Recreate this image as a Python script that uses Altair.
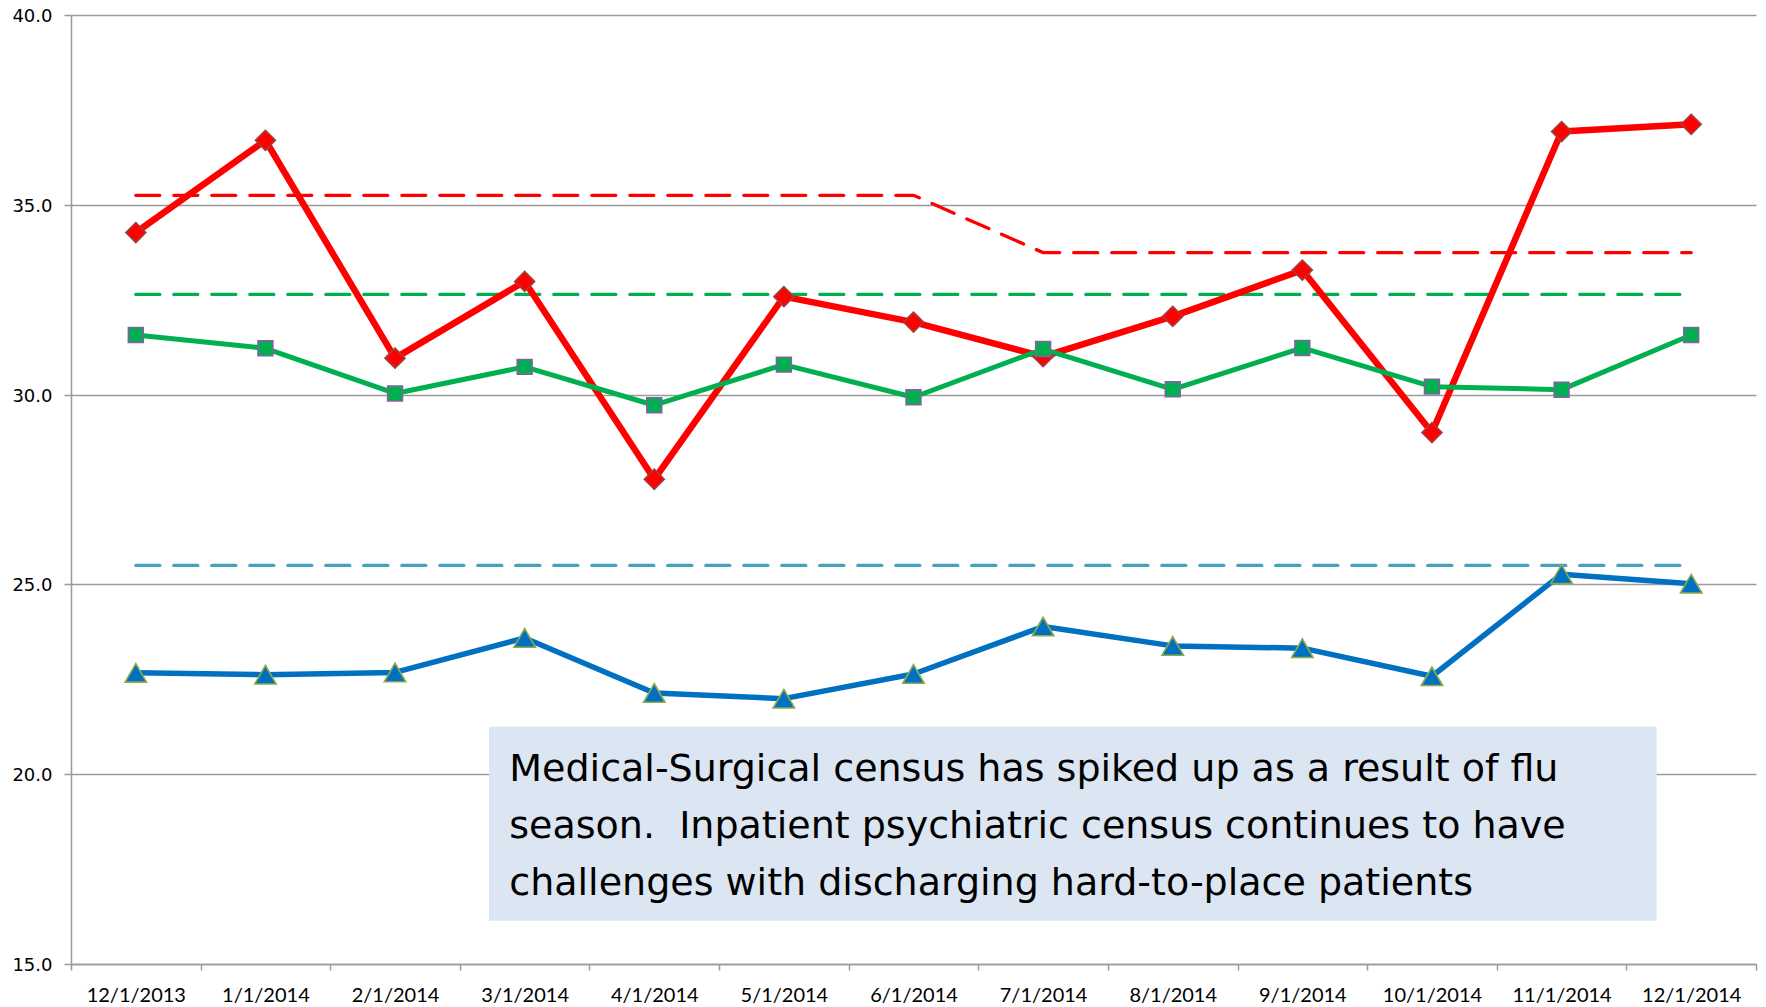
import altair as alt
import pandas as pd

# ---------------- data ----------------
months = ["12/1/2013", "1/1/2014", "2/1/2014", "3/1/2014", "4/1/2014", "5/1/2014",
          "6/1/2014", "7/1/2014", "8/1/2014", "9/1/2014", "10/1/2014", "11/1/2014",
          "12/1/2014"]

med_surg = [34.27, 36.70, 30.96, 32.98, 27.77, 32.58, 31.91, 31.00, 32.06, 33.28,
            29.00, 36.93, 37.12]
other = [31.57, 31.22, 30.03, 30.73, 29.72, 30.79, 29.93, 31.20, 30.14, 31.23,
         30.21, 30.13, 31.57]
psych = [22.67, 22.62, 22.68, 23.59, 22.14, 21.99, 22.64, 23.89, 23.38, 23.32,
         22.58, 25.27, 25.02]

med_surg_limit = [35.25, 35.25, 35.25, 35.25, 35.25, 35.25, 35.25, 33.74, 33.74,
                  33.74, 33.74, 33.74, 33.74]
other_limit = [32.64, 32.64, 32.64, 32.64, 32.64, 32.64, 32.64, 32.64, 32.64,
               32.64, 32.64, 32.64, 32.64]
psych_limit = [25.50, 25.50, 25.50, 25.50, 25.50, 25.50, 25.50, 25.50, 25.50,
               25.50, 25.50, 25.50, 25.50]

y_ticks = [15, 20, 25, 30, 35, 40]

note_lines = [
    "Medical-Surgical census has spiked up as a result of flu",
    "season.\u00a0 Inpatient psychiatric census continues to have",
    "challenges with discharging hard-to-place patients",
]

# ---------------- layout ----------------
W, H = 1685, 949
GRAY = "#9a9a9a"

df = pd.DataFrame({
    "month": months,
    "med_surg": med_surg,
    "other": other,
    "psych": psych,
    "med_surg_limit": med_surg_limit,
    "other_limit": other_limit,
    "psych_limit": psych_limit,
})

x_enc = alt.X(
    "month:N", sort=months, bandPosition=0.5,
    scale=alt.Scale(type="band", paddingInner=0, paddingOuter=0),
    axis=alt.Axis(title=None, labelAngle=0, tickBand="extent", grid=False,
                  domainColor=GRAY, domainWidth=1.5, tickColor=GRAY, tickWidth=1.5,
                  tickSize=6, labelFont="Lato", labelFontSize=20, labelColor="#000000",
                  labelPadding=15),
)


def y_enc(field):
    return alt.Y(
        f"{field}:Q",
        scale=alt.Scale(domain=[15, 40], nice=False, zero=False),
        axis=alt.Axis(title=None, values=y_ticks, format=".1f", grid=True,
                      gridColor=GRAY, gridWidth=1.5, domainColor=GRAY, domainWidth=1.5,
                      tickColor=GRAY, tickWidth=1.5, tickSize=7, labelFont="DejaVu Sans",
                      labelFontSize=18, labelColor="#000000", labelPadding=12,
                      labelOffset=1.5),
    )


base = alt.Chart(df)


def dashed(field, color):
    return base.mark_line(color=color, strokeWidth=3.3, strokeDash=[24, 14],
                          strokeCap="round").encode(x=x_enc, y=y_enc(field))


def series(field, color, width, shape, size, stroke):
    line = base.mark_line(color=color, strokeWidth=width, strokeJoin="round").encode(
        x=x_enc, y=y_enc(field))
    pts = base.mark_point(shape=shape, size=size, filled=True, fill=color, stroke=stroke,
                          strokeWidth=1.6, opacity=1).encode(x=x_enc, y=y_enc(field))
    return line + pts


note_df = pd.DataFrame({"k": [0]})
box = alt.Chart(note_df).mark_rect(color="#DCE6F2").encode(
    x=alt.value(418), x2=alt.value(1585.7), y=alt.value(711.7), y2=alt.value(905.7))
note = alt.Chart(note_df).mark_text(
    align="left", baseline="alphabetic", font="DejaVu Sans", fontSize=38, lineHeight=57,
    color="#000000").encode(x=alt.value(438.3), y=alt.value(765.7), text=alt.value(note_lines))

chart = alt.layer(
    dashed("med_surg_limit", "#FF0000"),
    dashed("other_limit", "#00B050"),
    dashed("psych_limit", "#46A1BC"),
    series("med_surg", "#FF0000", 6.5, "diamond", 400, "#A0403C"),
    series("other", "#00B050", 5, "square", 220, "#8064A2"),
    series("psych", "#0070C0", 5.5, "triangle-up", 460, "#8DAA4A"),
    box,
    note,
).properties(
    width=W, height=H,
    autosize=alt.AutoSizeParams(type="none"),
    padding={"left": 63, "top": 7, "right": 2, "bottom": 40},
).configure_view(stroke=None)

chart.save("out.html", embed_options={"renderer": "svg", "actions": False})
